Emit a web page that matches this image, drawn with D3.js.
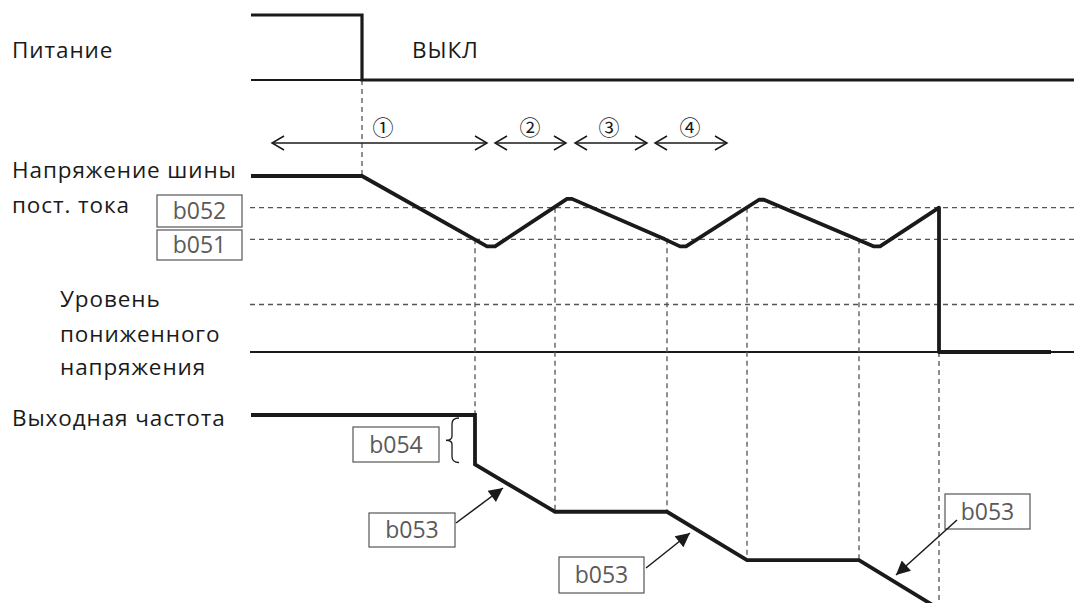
<!DOCTYPE html>
<html><head><meta charset="utf-8">
<script src="https://cdn.jsdelivr.net/npm/d3@7"></script>
<style>body{margin:0;background:#fff}svg{display:block}text{font-family:"Open Sans","Noto Sans",sans-serif}</style>
</head><body><svg id="c" width="1074" height="603"></svg>
<script>
// ---- data (time in units from power loss) ----
const timeDomain = [-111, 712];
const powerTimes = [-111, 0, 0, 712];
const powerLevels = [1, 1, 0, 0];
const busTimes = [-111, 0, 125, 133, 205, 210, 303, 318, 324, 397, 402, 495, 512, 518, 577, 577, 689];
const busVolts = [100, 100, 60, 60, 87, 87, 64, 60, 60, 86.5, 86.5, 64, 60, 60, 82, 0, 0];
const thresholdNames = ["b052", "b051", "UV"];
const thresholdVolts = [82, 64, 27];
const freqTimes = [-111, 113, 113, 193, 305, 385, 497, 580];
const freqValues = [100, 100, 78, 57, 57, 35.5, 35.5, 13];
const eventTimes = [0, 113, 193, 305, 385, 497, 577];
const eventTopVolt = [null, 64, 82, 64, 82, 64, 0];
const eventBottomFreq = [null, 100, 57, 57, 35.5, 35.5, null];
const phaseLabels = ["①", "②", "③", "④"];
const phaseStart = [-90, 133, 213, 293];
const phaseEnd = [125, 204, 285, 365];
const phaseMid = [21, 168, 247, 328];
const rowLabels = [["Питание"], ["Напряжение шины", "пост. тока"], ["Уровень", "пониженного", "напряжения"], ["Выходная частота"]];
const offLabel = "ВЫКЛ";

// ---- layout ----
const W = 1074, H = 603;
const svg = d3.select("#c");
const x = d3.scaleLinear().domain(timeDomain).range([251, 1074]);
const yP = d3.scaleLinear().domain([0, 1]).range([80, 15]);
const yV = d3.scaleLinear().domain([0, 100]).range([352, 176]);
const yF = d3.scaleLinear().domain([0, 100]).range([640, 415]);
const ink = "#1a1a1a", gray = "#555";

// horizontal thresholds (dashed) and zero line
thresholdVolts.forEach(v => {
  svg.append("line").attr("x1", 250).attr("x2", W).attr("y1", yV(v)).attr("y2", yV(v))
    .attr("stroke", gray).attr("stroke-width", 1.3).attr("stroke-dasharray", "5,4");
});
svg.append("line").attr("x1", 250).attr("x2", W).attr("y1", yV(0)).attr("y2", yV(0))
  .attr("stroke", ink).attr("stroke-width", 2);
svg.append("line").attr("x1", 251).attr("x2", W).attr("y1", yP(0)).attr("y2", yP(0))
  .attr("stroke", ink).attr("stroke-width", 2);

// vertical event lines
eventTimes.forEach((t, i) => {
  const top = i === 0 ? yP(0) : yV(eventTopVolt[i]);
  const bot = i === 0 ? yV(100) : (eventBottomFreq[i] == null ? H : yF(eventBottomFreq[i]));
  svg.append("line").attr("x1", x(t)).attr("x2", x(t)).attr("y1", top).attr("y2", bot)
    .attr("stroke", gray).attr("stroke-width", 1.3).attr("stroke-dasharray", "5,4");
});

// signals
const lineP = d3.line().x((d, i) => x(powerTimes[i])).y((d, i) => yP(powerLevels[i]));
svg.append("path").attr("d", lineP(powerTimes)).attr("fill", "none").attr("stroke", ink)
  .attr("stroke-width", 3.2).attr("stroke-linejoin", "miter");
const lineV = d3.line().x((d, i) => x(busTimes[i])).y((d, i) => yV(busVolts[i]));
svg.append("path").attr("d", lineV(busTimes)).attr("fill", "none").attr("stroke", ink)
  .attr("stroke-width", 3.8).attr("stroke-linejoin", "round");
const lineF = d3.line().x((d, i) => x(freqTimes[i])).y((d, i) => yF(freqValues[i]));
svg.append("path").attr("d", lineF(freqTimes)).attr("fill", "none").attr("stroke", ink)
  .attr("stroke-width", 3.8).attr("stroke-linejoin", "miter");

// phase arrows
const chev = (px, py, dir) => `M${px + dir * 12},${py - 7}L${px},${py}L${px + dir * 12},${py + 7}`;
phaseLabels.forEach((lab, i) => {
  const a = x(phaseStart[i]), b = x(phaseEnd[i]), yy = 143;
  svg.append("line").attr("x1", a).attr("x2", b).attr("y1", yy).attr("y2", yy).attr("stroke", ink).attr("stroke-width", 1.5);
  svg.append("path").attr("d", chev(a, yy, 1) + chev(b, yy, -1)).attr("fill", "none").attr("stroke", ink).attr("stroke-width", 1.5);
  svg.append("text").attr("x", x(phaseMid[i])).attr("y", 135).attr("text-anchor", "middle")
    .attr("font-size", 21).attr("fill", ink).style("font-family", "'Noto Sans CJK JP','Noto Sans CJK SC',sans-serif").text(lab);
});

// row labels
const fs = 22.5, ls = 0.9;
const lbl = (tx, xx, yy) => svg.append("text").attr("x", xx).attr("y", yy).attr("font-size", fs)
  .attr("letter-spacing", ls).attr("fill", ink).text(tx);
lbl(rowLabels[0][0], 12, 58);
lbl(offLabel, 412, 58);
lbl(rowLabels[1][0], 12, 178);
lbl(rowLabels[1][1], 12, 213);
[307, 342, 375].forEach((yy, i) => lbl(rowLabels[2][i], 60, yy));
lbl(rowLabels[3][0], 12, 426);

// parameter boxes
function box(label, x0, y0, w, h) {
  svg.append("rect").attr("x", x0).attr("y", y0).attr("width", w).attr("height", h)
    .attr("fill", "#fff").attr("stroke", gray).attr("stroke-width", 1.2);
  svg.append("text").attr("x", x0 + w / 2).attr("y", y0 + h / 2 + 8).attr("text-anchor", "middle")
    .attr("font-size", 23).attr("fill", "#5a5a5a").text(label);
}
box(thresholdNames[0], 157, 195, 85, 32);
box(thresholdNames[1], 157, 230, 85, 30);
box("b054", 353, 427, 86, 35);
box("b053", 369, 513, 86, 34);
box("b053", 559, 557, 85, 36);
box("b053", 945, 494, 85, 35);

// brace for b054
const bt = yF(100) + 3, bb = yF(78) - 2, bm = (bt + bb) / 2, bx = 452;
svg.append("path").attr("d",
  `M${bx + 7},${bt} Q${bx},${bt} ${bx},${bt + 6} L${bx},${bm - 4} Q${bx},${bm} ${bx - 6},${bm} Q${bx},${bm} ${bx},${bm + 4} L${bx},${bb - 6} Q${bx},${bb} ${bx + 7},${bb}`)
  .attr("fill", "none").attr("stroke", ink).attr("stroke-width", 1.3);

// b053 arrows
svg.append("defs").append("marker").attr("id", "ah").attr("viewBox", "0 0 10 10").attr("refX", 10).attr("refY", 5)
  .attr("markerWidth", 16).attr("markerHeight", 14).attr("markerUnits", "userSpaceOnUse").attr("orient", "auto")
  .append("path").attr("d", "M0,0L10,5L0,10Z").attr("fill", ink);
[[456, 523, 503, 488], [646, 568, 690, 533], [957, 520, 896, 575]].forEach(a => {
  svg.append("line").attr("x1", a[0]).attr("y1", a[1]).attr("x2", a[2]).attr("y2", a[3])
    .attr("stroke", ink).attr("stroke-width", 1.5).attr("marker-end", "url(#ah)");
});
</script></body></html>
